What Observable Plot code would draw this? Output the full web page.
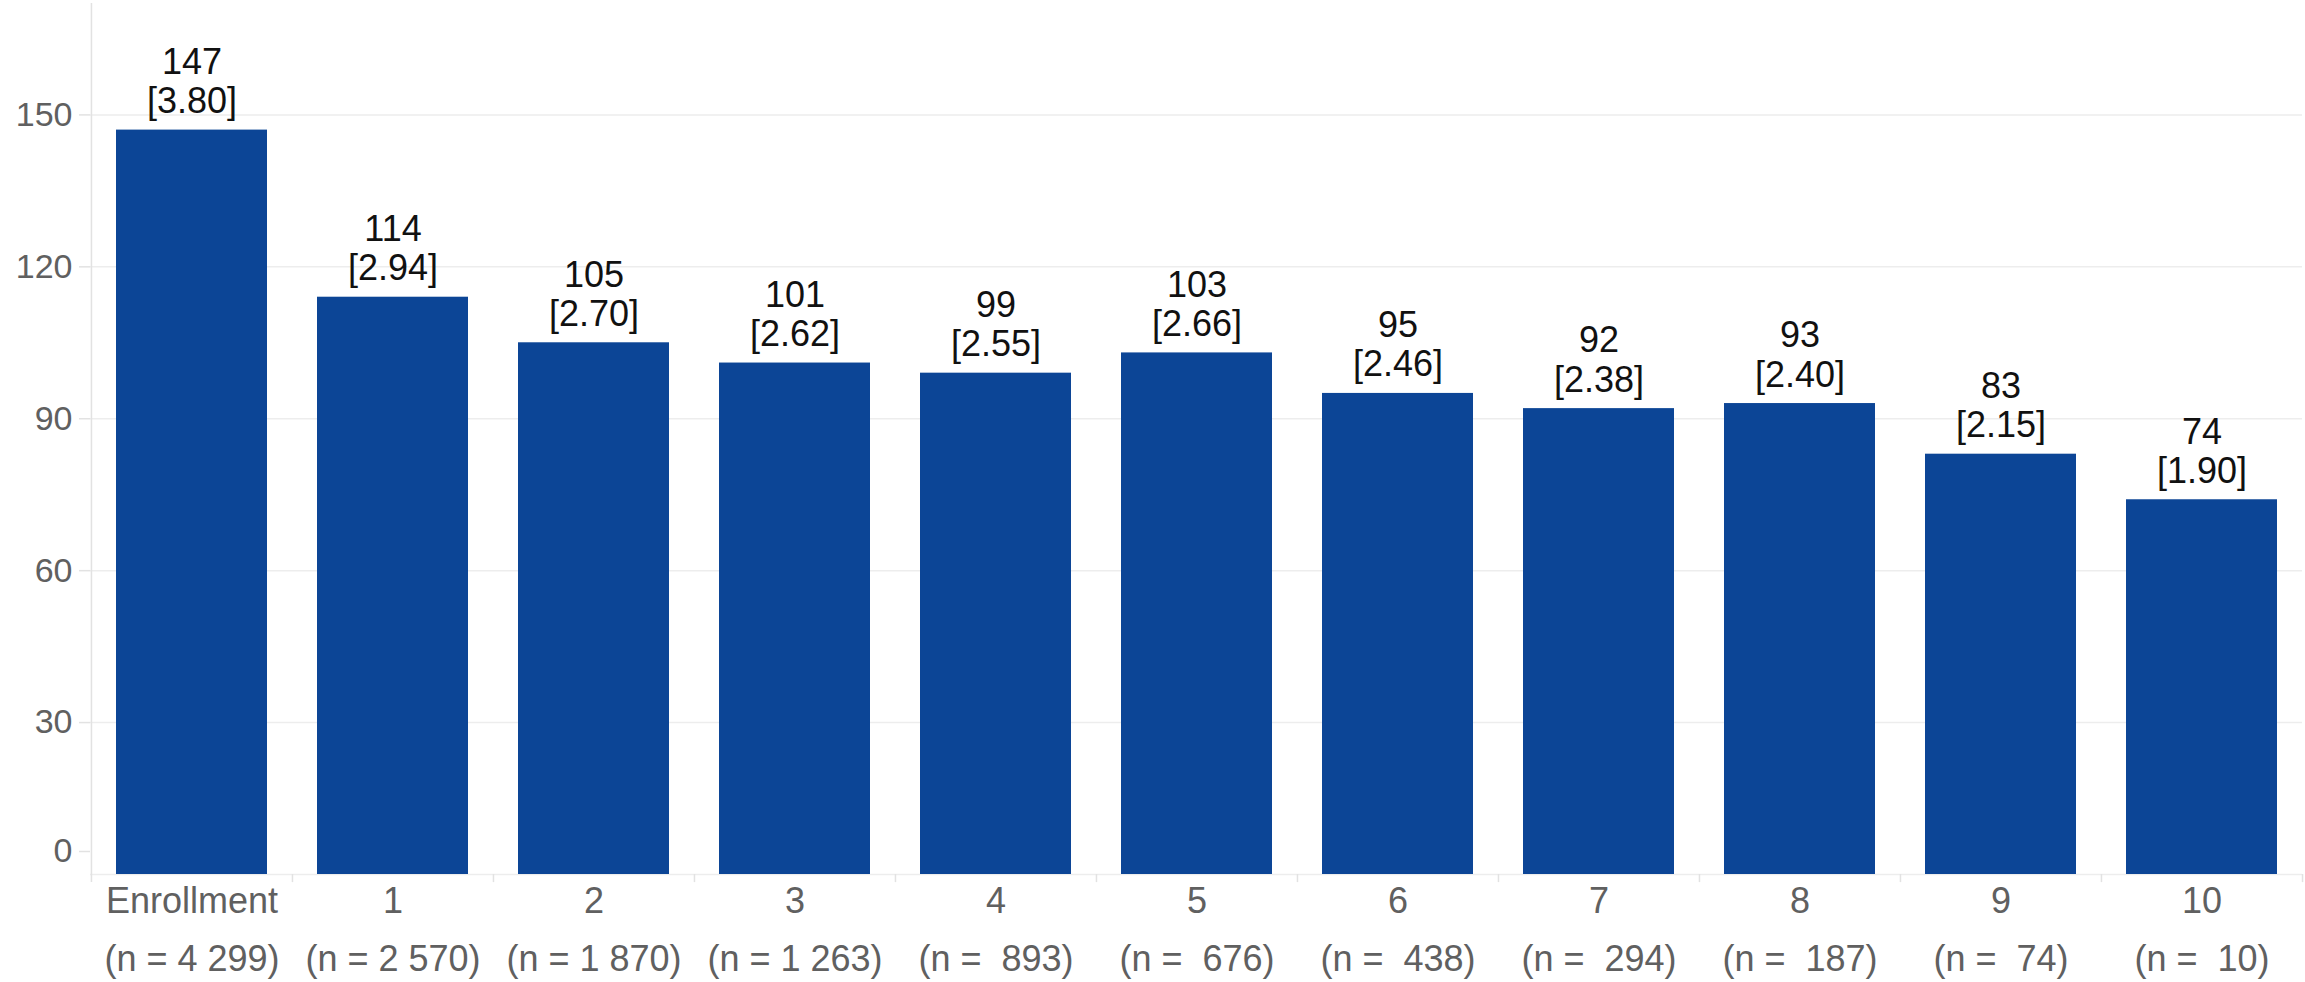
<!DOCTYPE html>
<html>
<head>
<meta charset="utf-8">
<script src="https://cdn.jsdelivr.net/npm/d3@7"></script>
<script src="https://cdn.jsdelivr.net/npm/@observablehq/plot@0.6"></script>
<style>
  html, body { margin: 0; padding: 0; background: #ffffff; }
  #chart svg text { white-space: pre; }
</style>
</head>
<body>
<div id="chart"></div>
<script>
// Visit categories and their enrollment counts
const categories = ["Enrollment", "1", "2", "3", "4", "5", "6", "7", "8", "9", "10"];
const nLabels = ["(n = 4 299)", "(n = 2 570)", "(n = 1 870)", "(n = 1 263)", "(n =  893)", "(n =  676)",
                 "(n =  438)", "(n =  294)", "(n =  187)", "(n =  74)", "(n =  10)"];
// Bar values and the bracketed rate shown under each value
const values = [147, 114, 105, 101, 99, 103, 95, 92, 93, 83, 74];
const rates = ["3.80", "2.94", "2.70", "2.62", "2.55", "2.66", "2.46", "2.38", "2.40", "2.15", "1.90"];
// Y axis ticks
const yTicks = [0, 30, 60, 90, 120, 150];
const yMax = 172;

const data = categories.map((c, i) => ({category: c, n: nLabels[i], value: values[i], rate: rates[i]}));
const nByCategory = new Map(data.map(d => [d.category, d.n]));

const width = 2305, height = 982;
const marginLeft = 90, marginRight = 3, marginTop = 3, marginBottom = 108;
const step = (width - marginLeft - marginRight) / categories.length;

const barColor = "#0c4596";
const gridColor = "#ededed";
const axisColor = "#e2e2e2";
const labelColor = "#606060";

const chart = Plot.plot({
  width, height, marginLeft, marginRight, marginTop, marginBottom,
  style: {fontFamily: "'Liberation Sans', Arial, sans-serif", background: "#ffffff", overflow: "visible"},
  x: {domain: categories, paddingInner: 0.25, paddingOuter: 0.125, label: null},
  y: {domain: [0, yMax], label: null},
  marks: [
    // horizontal gridlines (including the baseline)
    Plot.ruleY(yTicks, {stroke: gridColor, strokeWidth: 1.5}),
    // left axis line
    Plot.ruleX([categories[0]], {dx: -step / 2, y1: -1.6, y2: yMax, stroke: axisColor, strokeWidth: 1.5}),
    // tick marks at band boundaries below the baseline
    Plot.ruleX(categories.slice(1), {dx: -step / 2, y1: -1.6, y2: 0, stroke: axisColor, strokeWidth: 1.5}),
    Plot.ruleX([categories[categories.length - 1]], {dx: step / 2, y1: -1.6, y2: 0, stroke: axisColor, strokeWidth: 1.5}),
    // bars
    Plot.barY(data, {x: "category", y: "value", fill: barColor}),
    // value and rate labels above each bar
    Plot.text(data, {
      x: "category", y: "value",
      text: d => `${d.value}\n[${d.rate}]`,
      lineAnchor: "bottom", lineHeight: 1.09, dy: -17,
      fontSize: 36, fill: "#111111"
    }),
    // y axis: the zero label sits slightly above its gridline
    Plot.axisY(yTicks.filter(t => t !== 0), {
      tickSize: 11, tickPadding: 7, stroke: axisColor, strokeWidth: 1.5,
      fontSize: 34, fill: labelColor
    }),
    Plot.axisY([0], {
      tickSize: 11, tickPadding: 7, stroke: axisColor, strokeWidth: 1.5,
      fontSize: 34, fill: labelColor, dy: -23
    }),
    // x axis: category name and sample size on two lines
    Plot.axisX({
      tickSize: 0, tickPadding: -2, fontSize: 36, fill: labelColor, lineHeight: 1.6,
      tickFormat: c => `${c}\n${nByCategory.get(c)}`
    })
  ]
});

document.getElementById("chart").appendChild(chart);
</script>
</body>
</html>
